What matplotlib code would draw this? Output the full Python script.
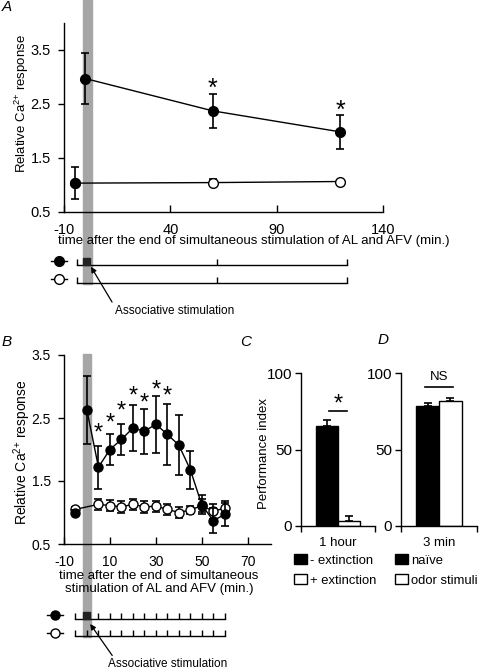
import matplotlib
matplotlib.use('Agg')
import matplotlib.pyplot as plt
import matplotlib.transforms as mtransforms
from matplotlib.patches import Rectangle, Patch

plt.rcParams['font.family'] = ['Liberation Sans', 'DejaVu Sans']
plt.rcParams['mathtext.default'] = 'regular'
plt.rcParams['axes.unicode_minus'] = False
plt.rcParams['font.size'] = 10

W, H = 480, 671

# --- panel A: Ca2+ response, 1 hour time course ---
a_pre_x = [-5]
a_pre_y = [1.03]
a_pre_err = [0.30]
a_x_filled = [0, 60, 120]
a_y_filled = [2.97, 2.37, 1.98]
a_err_filled = [0.47, 0.32, 0.31]
a_x_open = [-5, 60, 120]
a_y_open = [1.03, 1.04, 1.06]
a_err_open = [0.0, 0.07, 0.03]
a_sig_x = [60, 120]
a_sig_y = [2.92, 2.51]
a_xticks = [-10, 40, 90, 140]
a_yticks = [0.5, 1.5, 2.5, 3.5]
a_protocol = [-4, 62, 123]
a_stim = (-1, 3)

# --- panel B: Ca2+ response, every 5 min ---
b_pre_x = [-5]
b_pre_y = [1.00]
b_pre_err = [0.04]
b_x_filled = [0, 5, 10, 15, 20, 25, 30, 35, 40, 45, 50, 55, 60]
b_y_filled = [2.62, 1.72, 2.00, 2.16, 2.34, 2.29, 2.40, 2.24, 2.07, 1.68, 1.12, 0.87, 0.97]
b_err_filled = [0.54, 0.34, 0.25, 0.25, 0.36, 0.36, 0.45, 0.49, 0.48, 0.30, 0.15, 0.20, 0.18]
b_x_open = [-5, 5, 10, 15, 20, 25, 30, 35, 40, 45, 50, 55, 60]
b_y_open = [1.05, 1.13, 1.11, 1.09, 1.13, 1.09, 1.10, 1.05, 1.00, 1.04, 1.11, 1.02, 1.07]
b_err_open = [0.03, 0.09, 0.09, 0.09, 0.09, 0.09, 0.09, 0.09, 0.09, 0.07, 0.10, 0.12, 0.12]
b_sig_x = [5, 10, 15, 20, 25, 30, 35]
b_sig_y = [2.38, 2.54, 2.73, 2.96, 2.85, 3.06, 2.96]
b_xticks = [-10, 10, 30, 50, 70]
b_yticks = [0.5, 1.5, 2.5, 3.5]
b_protocol = [-5, 0, 5, 10, 15, 20, 25, 30, 35, 40, 45, 50, 55, 60]
b_stim = (-1.75, 1.75)

# --- panels C and D: performance index ---
c_labels = ['- extinction', '+ extinction']
c_values = [65.6, 3.3]
c_err = [3.8, 3.3]
c_sig = ('*', 75.5, 84.4)
d_labels = ['naïve', 'odor stimuli']
d_values = [78.5, 81.6]
d_err = [2.2, 2.0]
d_sig = ('NS', 90.8, 97.5)
pi_yticks = [0, 50, 100]

CA_LABEL = 'Relative Ca$^{2{+}}$ response'


def px_box(left, top, right, bottom):
    return [left / W, 1 - bottom / H, (right - left) / W, (bottom - top) / H]


def style_axes(ax):
    ax.set_facecolor('none')
    ax.spines['top'].set_visible(False)
    ax.spines['right'].set_visible(False)
    for s in ('left', 'bottom'):
        ax.spines[s].set_linewidth(1.0)


def plot_series(ax, pre, filled, opened, ms):
    kw = dict(color='black', lw=1.0, elinewidth=1.2, capsize=3, capthick=1.2, ms=ms)
    ax.errorbar(opened[0], opened[1], yerr=opened[2], fmt='-o', mfc='white',
                mec='black', zorder=2, **kw)
    ax.errorbar(pre[0], pre[1], yerr=pre[2], fmt='o', mfc='black', zorder=3, **kw)
    ax.errorbar(filled[0], filled[1], yerr=filled[2], fmt='-o', mfc='black',
                zorder=4, **kw)


def star(ax, x, y, size):
    # glyph centre of Liberation Sans '*' sits ~0.575 em above the baseline
    ax.annotate('*', xy=(x, y), xytext=(0, -0.575 * size), textcoords='offset points',
                ha='center', va='baseline', fontsize=size)


def draw_protocol(ax, ticks, square, marker_x, half, tick_h, ms):
    for row, face in [(1, 'black'), (0, 'white')]:
        ax.plot([ticks[0], ticks[-1]], [row, row], color='black', lw=1)
        ax.vlines(ticks, row, row + tick_h, color='black', lw=1)
        ax.plot([marker_x - half, marker_x + half], [row + 0.2] * 2, color='black',
                lw=1, clip_on=False)
        ax.plot(marker_x, row + 0.2, 'o', mfc=face, mec='black', ms=ms, clip_on=False)
    ax.add_patch(Rectangle((square[0], 1), square[1] - square[0], 0.38,
                           color='#222222', zorder=3))
    ax.set_ylim(-0.5, 1.5)
    ax.axis('off')


def stim_band(ax, stim, y0, y1):
    tr = mtransforms.blended_transform_factory(ax.transData, fig.transFigure)
    fig.patches.append(Rectangle((stim[0], 1 - y1 / H), stim[1] - stim[0],
                                 (y1 - y0) / H, transform=tr, color='#a6a6a6',
                                 zorder=-1, figure=fig))


fig = plt.figure(figsize=(W / 100, H / 100), dpi=100)

# ---------------- A ----------------
axA = fig.add_axes(px_box(64, 23, 383, 211.7))
style_axes(axA)
plot_series(axA, (a_pre_x, a_pre_y, a_pre_err), (a_x_filled, a_y_filled, a_err_filled),
            (a_x_open, a_y_open, a_err_open), 7)
axA.set_xlim(-10, 140)
axA.set_ylim(0.5, 4.0)
axA.set_xticks(a_xticks)
axA.set_yticks(a_yticks)
axA.tick_params(axis='x', direction='in', length=5, width=1, pad=8, labelsize=10.5)
axA.tick_params(axis='y', direction='out', length=4, width=1, pad=5.5, labelsize=10.5)
for x, y in zip(a_sig_x, a_sig_y):
    star(axA, x, y, 18)
axA.set_ylabel(CA_LABEL, fontsize=9.5)
axA.yaxis.set_label_coords(-0.103, 0.575)
axA.set_xlabel('time after the end of simultaneous stimulation of AL and AFV (min.)',
               fontsize=9.5)
axA.xaxis.set_label_coords(0.594, -0.125)

spA = fig.add_axes(px_box(64, 256, 383, 292))
spA.set_xlim(-10, 140)
draw_protocol(spA, a_protocol, (-1.1, 2.2), -12.35, 3.75, 0.33, 7)
spA.annotate('', xy=(2.7, 0.9), xytext=(12.6, -1.06), annotation_clip=False,
             arrowprops=dict(arrowstyle='-|>', color='black', lw=0.9,
                             shrinkA=0, shrinkB=0, mutation_scale=8))
spA.text(14, -1.56, 'Associative stimulation', ha='left', va='center', fontsize=8.5,
         clip_on=False)
stim_band(axA, a_stim, 0, 284)

# ---------------- B ----------------
axB = fig.add_axes(px_box(64, 355, 270.7, 544))
style_axes(axB)
plot_series(axB, (b_pre_x, b_pre_y, b_pre_err), (b_x_filled, b_y_filled, b_err_filled),
            (b_x_open, b_y_open, b_err_open), 6.5)
axB.set_xlim(-10, 80)
axB.set_ylim(0.5, 3.5)
axB.set_xticks(b_xticks)
axB.set_yticks(b_yticks)
axB.tick_params(axis='x', direction='in', length=5, width=1, pad=8, labelsize=10)
axB.tick_params(axis='y', direction='out', length=4, width=1, pad=5.5, labelsize=10)
for x, y in zip(b_sig_x, b_sig_y):
    star(axB, x, y, 17)
axB.set_ylabel(CA_LABEL, fontsize=10)
axB.yaxis.set_label_coords(-0.15, 0.487)
axB.set_xlabel('time after the end of simultaneous\nstimulation of AL and AFV (min.)',
               fontsize=9.5)
axB.xaxis.set_label_coords(0.46, -0.135)

spB = fig.add_axes(px_box(64, 610, 270.7, 645))
spB.set_xlim(-10, 80)
draw_protocol(spB, b_protocol, (-1.7, 1.4), -13.9, 3.5, 0.34, 6.5)
spB.annotate('', xy=(1.4, 0.7), xytext=(11, -1.1), annotation_clip=False,
             arrowprops=dict(arrowstyle='-|>', color='black', lw=0.9,
                             shrinkA=0, shrinkB=0, mutation_scale=8))
spB.text(9.3, -1.6, 'Associative stimulation', ha='left', va='center', fontsize=8.5,
         clip_on=False)
stim_band(axB, b_stim, 354, 637)


# ---------------- C and D ----------------
def bar_panel(ax, values, errs, labels, category, sig, sig_half, legend_x):
    style_axes(ax)
    xs = [-0.15, 0.15]
    faces = ['black', 'white']
    ax.bar(xs, values, width=0.3, color=faces, edgecolor='black', lw=1, zorder=2)
    ax.errorbar(xs, values, yerr=[[0, 0], errs], fmt='none', ecolor='black',
                elinewidth=1.2, capsize=3, capthick=1.2, zorder=1)
    ax.set_xlim(-0.5, 0.5)
    ax.set_ylim(0, 100)
    ax.set_yticks(pi_yticks)
    ax.set_xticks([0])
    ax.set_xticklabels([category], fontsize=9.5)
    ax.set_xticks([-0.5, 0.5], minor=True)
    ax.tick_params(axis='x', which='major', length=0, pad=8)
    ax.tick_params(axis='x', which='minor', direction='out', length=4, width=1)
    ax.tick_params(axis='y', direction='out', length=4, width=1, pad=2.5, labelsize=11)
    text, line_y, text_y = sig
    ax.plot([-sig_half, sig_half], [line_y, line_y], color='black', lw=1.2,
            clip_on=False)
    if text == '*':
        star(ax, 0, text_y, 17)
    else:
        ax.text(0, text_y, text, ha='center', va='center', fontsize=9.5)
    handles = [Patch(facecolor=f, edgecolor='black', lw=1) for f in faces]
    ax.legend(handles, labels, loc='upper left', bbox_to_anchor=(legend_x / W, 1 - 554 / H),
              bbox_transform=fig.transFigure, frameon=False, borderpad=0,
              borderaxespad=0, handlelength=1.0, handleheight=0.8,
              handletextpad=0.25, labelspacing=0.6, fontsize=9.4)


axC = fig.add_axes(px_box(301, 373.3, 375, 525.7))
bar_panel(axC, c_values, c_err, c_labels, '1 hour', c_sig, 0.12, 294)
axC.set_ylabel('Performance index', fontsize=9.5)
axC.yaxis.set_label_coords(-0.42, 0.477)

axD = fig.add_axes(px_box(401, 373.3, 477, 525.7))
bar_panel(axD, d_values, d_err, d_labels, '3 min', d_sig, 0.18, 395)

# panel letters
for letter, x, y in [('A', 2, 7), ('B', 2, 342), ('C', 240, 342), ('D', 378, 340)]:
    fig.text(x / W, 1 - y / H, letter, ha='left', va='center', fontsize=11,
             style='italic')

fig.savefig('out.png', dpi=100)
